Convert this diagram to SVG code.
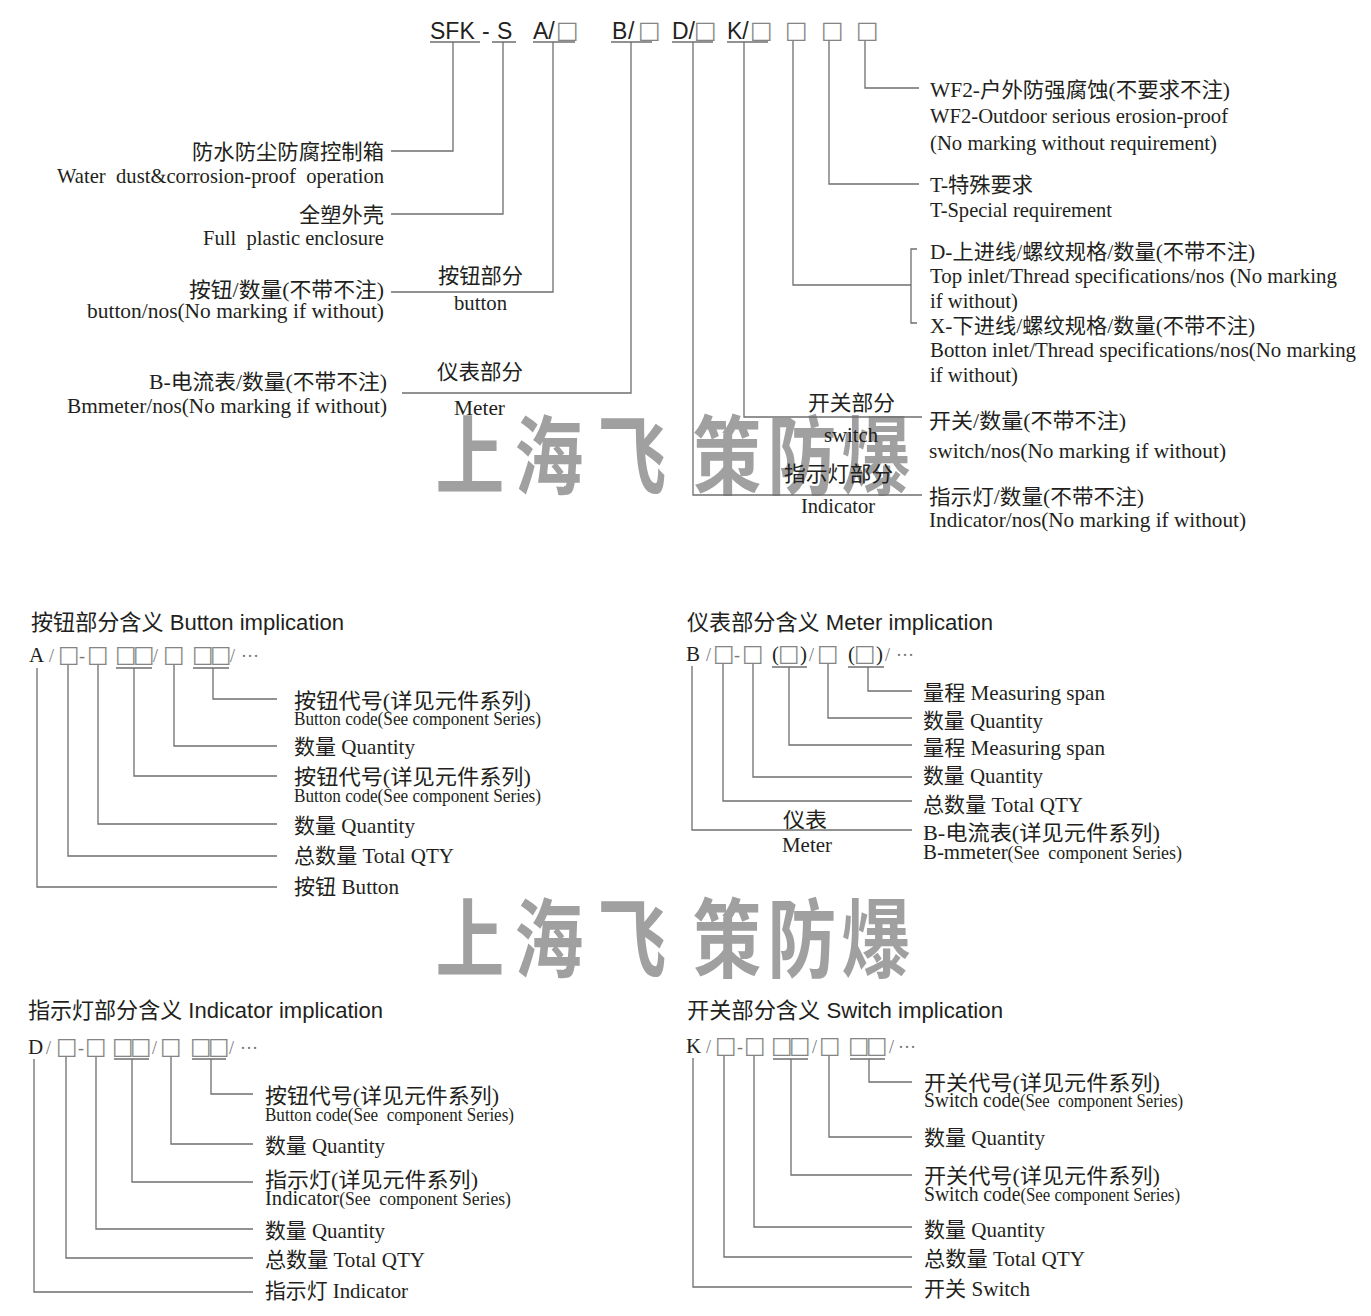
<svg xmlns="http://www.w3.org/2000/svg" width="1371" height="1316" viewBox="0 0 1371 1316">
<style>
.bg{fill:#ffffff}
.wm{font-family:"Noto Sans CJK SC",sans-serif;font-size:86px;font-weight:700;fill:#a0a0a0}
.t{font-family:"Liberation Serif","Noto Sans CJK SC",serif;font-size:21px;fill:#231f20}
.s{font-family:"Liberation Serif","Noto Sans CJK SC",serif;font-size:18px;fill:#231f20}
.h{font-family:"Liberation Sans","Noto Sans CJK SC",sans-serif;font-size:22px;fill:#231f20}
.code{font-family:"Liberation Sans",sans-serif;font-size:23px;fill:#231f20}
.bx{font-family:"DejaVu Sans",sans-serif;font-size:24px;fill:#858585}
.bs{font-family:"DejaVu Sans",sans-serif;font-size:23px;fill:#858585}
.cs{font-family:"Liberation Serif","Noto Sans CJK SC",serif;font-size:21px;fill:#231f20}
.cg{font-family:"Liberation Serif","Noto Sans CJK SC",serif;font-size:18px;fill:#777777}
.ln{fill:none;stroke:#6f6f6f;stroke-width:1.3}
.ul{fill:none;stroke:#6f6f6f;stroke-width:1.3}
</style>
<rect class="bg" x="0" y="0" width="1371" height="1316"/>

<g id="watermark">
<text class="wm" text-anchor="middle" transform="translate(470,488) scale(0.8,1)">上</text>
<text class="wm" text-anchor="middle" transform="translate(549,488) scale(0.8,1)">海</text>
<text class="wm" text-anchor="middle" transform="translate(632,488) scale(0.8,1)">飞</text>
<text class="wm" text-anchor="middle" transform="translate(727,488) scale(0.8,1)">策</text>
<text class="wm" text-anchor="middle" transform="translate(802,488) scale(0.8,1)">防</text>
<text class="wm" text-anchor="middle" transform="translate(876,488) scale(0.8,1)">爆</text>
<text class="wm" text-anchor="middle" transform="translate(470,971) scale(0.8,1)">上</text>
<text class="wm" text-anchor="middle" transform="translate(549,971) scale(0.8,1)">海</text>
<text class="wm" text-anchor="middle" transform="translate(632,971) scale(0.8,1)">飞</text>
<text class="wm" text-anchor="middle" transform="translate(727,971) scale(0.8,1)">策</text>
<text class="wm" text-anchor="middle" transform="translate(802,971) scale(0.8,1)">防</text>
<text class="wm" text-anchor="middle" transform="translate(876,971) scale(0.8,1)">爆</text>
</g>

<g id="connectors">
<path class="ln" d="M453,42V151H391"/>
<path class="ln" d="M503,42V214H391"/>
<path class="ln" d="M553,42V292H391"/>
<path class="ln" d="M631,42V393H402"/>
<path class="ln" d="M693,42V495H922"/>
<path class="ln" d="M744,42V417H922"/>
<path class="ln" d="M793,40V285H911"/>
<path class="ln" d="M917,249H911V323H917"/>
<path class="ln" d="M829,40V184H919"/>
<path class="ln" d="M865,40V88H919"/>

<path class="ln" d="M37,668V887H277"/>
<path class="ln" d="M68,665V856H277"/>
<path class="ln" d="M98,665V824H277"/>
<path class="ln" d="M134,668V776H277"/>
<path class="ln" d="M174,665V746H277"/>
<path class="ln" d="M213,668V699H277"/>

<path class="ln" d="M692,666V830H912"/>
<path class="ln" d="M723,663V801H912"/>
<path class="ln" d="M753,663V777H912"/>
<path class="ln" d="M789,667V745H912"/>
<path class="ln" d="M828,663V718H912"/>
<path class="ln" d="M868,667V691H912"/>

<path class="ln" d="M34,1059V1292H253"/>
<path class="ln" d="M66,1056V1258H253"/>
<path class="ln" d="M96,1056V1229H253"/>
<path class="ln" d="M132,1059V1182H253"/>
<path class="ln" d="M171,1056V1144H253"/>
<path class="ln" d="M211,1059V1094H253"/>

<path class="ln" d="M693,1058V1287H912"/>
<path class="ln" d="M724,1055V1257H912"/>
<path class="ln" d="M754,1055V1227H912"/>
<path class="ln" d="M791,1059V1175H912"/>
<path class="ln" d="M829,1055V1137H912"/>
<path class="ln" d="M869,1059V1082H912"/>
</g>

<g id="model-code">
<text class="code" y="39"><tspan x="430">SFK</tspan><tspan x="482">-</tspan><tspan x="497">S</tspan></text>
<text class="code" x="533" y="39">A/</text>
<text class="code" y="39"><tspan x="612">B</tspan><tspan x="628">/</tspan></text>
<text class="code" x="672" y="39">D/</text>
<text class="code" x="727" y="39">K/</text>
<text class="bx" x="556" y="38">□</text>
<text class="bx" x="638" y="38">□</text>
<text class="bx" x="694" y="38">□</text>
<text class="bx" x="750" y="38">□</text>
<text class="bx" x="785" y="38">□</text>
<text class="bx" x="821" y="38">□</text>
<text class="bx" x="856" y="38">□</text>
<path class="ul" d="M430,42H480M492,42H516M533,42H575M611,42H652M672,42H713M727,42H768"/>
</g>

<g id="node-enclosure">
<text class="t" x="384" y="159" text-anchor="end" textLength="192" lengthAdjust="spacingAndGlyphs">防水防尘防腐控制箱</text>
<text class="t" x="384" y="183" text-anchor="end" textLength="327" lengthAdjust="spacingAndGlyphs" xml:space="preserve">Water  dust&amp;corrosion-proof  operation</text>
</g>
<g id="node-plastic">
<text class="t" x="384" y="222" text-anchor="end" textLength="85" lengthAdjust="spacingAndGlyphs">全塑外壳</text>
<text class="t" x="384" y="245" text-anchor="end" textLength="181" lengthAdjust="spacingAndGlyphs" xml:space="preserve">Full  plastic enclosure</text>
</g>
<g id="node-button">
<text class="t" x="384" y="297" text-anchor="end" textLength="195" lengthAdjust="spacingAndGlyphs">按钮/数量(不带不注)</text>
<text class="t" x="384" y="318" text-anchor="end" textLength="297" lengthAdjust="spacingAndGlyphs">button/nos(No marking if without)</text>
<text class="t" x="438" y="283" textLength="85" lengthAdjust="spacingAndGlyphs">按钮部分</text>
<text class="t" x="454" y="310" textLength="53" lengthAdjust="spacingAndGlyphs">button</text>
</g>
<g id="node-meter">
<text class="t" x="387" y="389" text-anchor="end" textLength="238" lengthAdjust="spacingAndGlyphs">B-电流表/数量(不带不注)</text>
<text class="t" x="387" y="413" text-anchor="end" textLength="320" lengthAdjust="spacingAndGlyphs">Bmmeter/nos(No marking if without)</text>
<text class="t" x="437" y="379" textLength="86" lengthAdjust="spacingAndGlyphs">仪表部分</text>
<text class="t" x="454" y="415" textLength="51" lengthAdjust="spacingAndGlyphs">Meter</text>
</g>
<g id="node-wf2">
<text class="t" x="930" y="97" textLength="300" lengthAdjust="spacingAndGlyphs">WF2-户外防强腐蚀(不要求不注)</text>
<text class="t" x="930" y="123" textLength="298" lengthAdjust="spacingAndGlyphs">WF2-Outdoor serious erosion-proof</text>
<text class="t" x="930" y="150" textLength="287" lengthAdjust="spacingAndGlyphs">(No marking without requirement)</text>
</g>
<g id="node-special">
<text class="t" x="930" y="192" textLength="103" lengthAdjust="spacingAndGlyphs">T-特殊要求</text>
<text class="t" x="930" y="217" textLength="182" lengthAdjust="spacingAndGlyphs">T-Special requirement</text>
</g>
<g id="node-inlet">
<text class="t" x="930" y="259" textLength="325" lengthAdjust="spacingAndGlyphs">D-上进线/螺纹规格/数量(不带不注)</text>
<text class="t" x="930" y="283" textLength="407" lengthAdjust="spacingAndGlyphs">Top inlet/Thread specifications/nos (No marking</text>
<text class="t" x="930" y="308" textLength="88" lengthAdjust="spacingAndGlyphs">if without)</text>
<text class="t" x="930" y="333" textLength="325" lengthAdjust="spacingAndGlyphs">X-下进线/螺纹规格/数量(不带不注)</text>
<text class="t" x="930" y="357" textLength="426" lengthAdjust="spacingAndGlyphs">Botton inlet/Thread specifications/nos(No marking</text>
<text class="t" x="930" y="382" textLength="88" lengthAdjust="spacingAndGlyphs">if without)</text>
</g>
<g id="node-switch">
<text class="t" x="808" y="410" textLength="87" lengthAdjust="spacingAndGlyphs">开关部分</text>
<text class="t" x="824" y="442" textLength="54" lengthAdjust="spacingAndGlyphs">switch</text>
<text class="t" x="929" y="428" textLength="197" lengthAdjust="spacingAndGlyphs">开关/数量(不带不注)</text>
<text class="t" x="929" y="458" textLength="297" lengthAdjust="spacingAndGlyphs">switch/nos(No marking if without)</text>
</g>
<g id="node-indicator">
<text class="t" x="784" y="481" textLength="109" lengthAdjust="spacingAndGlyphs">指示灯部分</text>
<text class="t" x="801" y="513" textLength="74" lengthAdjust="spacingAndGlyphs">Indicator</text>
<text class="t" x="929" y="504" textLength="215" lengthAdjust="spacingAndGlyphs">指示灯/数量(不带不注)</text>
<text class="t" x="929" y="527" textLength="317" lengthAdjust="spacingAndGlyphs">Indicator/nos(No marking if without)</text>
</g>

<g id="button-implication">
<text class="h" x="31" y="630" textLength="313" lengthAdjust="spacingAndGlyphs">按钮部分含义 Button implication</text>
<text y="662"><tspan class="cs" x="29">A</tspan><tspan class="cg" x="49">/</tspan><tspan class="bs" x="58">□</tspan><tspan class="cg" x="79">-</tspan><tspan class="bs" x="87">□</tspan><tspan class="bs" x="115">□</tspan><tspan class="bs" x="133">□</tspan><tspan class="cg" x="153">/</tspan><tspan class="bs" x="163">□</tspan><tspan class="bs" x="192">□</tspan><tspan class="bs" x="210">□</tspan><tspan class="cg" x="230">/</tspan><tspan class="cg" x="241" dy="-5">…</tspan></text>
<path class="ul" d="M116,668H152M193,668H229"/>
<text class="t" x="294" y="708" textLength="237" lengthAdjust="spacingAndGlyphs">按钮代号(详见元件系列)</text>
<text class="s" x="294" y="725" textLength="247" lengthAdjust="spacingAndGlyphs">Button code(See component Series)</text>
<text class="t" x="294" y="754" textLength="121" lengthAdjust="spacingAndGlyphs">数量 Quantity</text>
<text class="t" x="294" y="784" textLength="237" lengthAdjust="spacingAndGlyphs">按钮代号(详见元件系列)</text>
<text class="s" x="294" y="802" textLength="247" lengthAdjust="spacingAndGlyphs">Button code(See component Series)</text>
<text class="t" x="294" y="833" textLength="121" lengthAdjust="spacingAndGlyphs">数量 Quantity</text>
<text class="t" x="294" y="863" textLength="160" lengthAdjust="spacingAndGlyphs">总数量 Total QTY</text>
<text class="t" x="294" y="894" textLength="105" lengthAdjust="spacingAndGlyphs">按钮 Button</text>
</g>

<g id="meter-implication">
<text class="h" x="687" y="630" textLength="306" lengthAdjust="spacingAndGlyphs">仪表部分含义 Meter implication</text>
<text y="661"><tspan class="cs" x="686">B</tspan><tspan class="cg" x="706">/</tspan><tspan class="bs" x="713">□</tspan><tspan class="cg" x="734">-</tspan><tspan class="bs" x="742">□</tspan><tspan class="cs" x="772">(</tspan><tspan class="bs" x="778">□</tspan><tspan class="cs" x="800">)</tspan><tspan class="cg" x="809">/</tspan><tspan class="bs" x="817">□</tspan><tspan class="cs" x="848">(</tspan><tspan class="bs" x="854">□</tspan><tspan class="cs" x="876">)</tspan><tspan class="cg" x="885">/</tspan><tspan class="cg" x="896" dy="-5">…</tspan></text>
<path class="ul" d="M772,667H807M848,667H884"/>
<text class="t" x="923" y="700" textLength="182" lengthAdjust="spacingAndGlyphs">量程 Measuring span</text>
<text class="t" x="923" y="728" textLength="120" lengthAdjust="spacingAndGlyphs">数量 Quantity</text>
<text class="t" x="923" y="755" textLength="182" lengthAdjust="spacingAndGlyphs">量程 Measuring span</text>
<text class="t" x="923" y="783" textLength="120" lengthAdjust="spacingAndGlyphs">数量 Quantity</text>
<text class="t" x="923" y="812" textLength="160" lengthAdjust="spacingAndGlyphs">总数量 Total QTY</text>
<text class="t" x="923" y="840" textLength="237" lengthAdjust="spacingAndGlyphs">B-电流表(详见元件系列)</text>
<text class="t" x="923" y="859" textLength="259" lengthAdjust="spacingAndGlyphs">B-mmeter<tspan class="s" xml:space="preserve">(See  component Series)</tspan></text>
<text class="t" x="783" y="827" textLength="44" lengthAdjust="spacingAndGlyphs">仪表</text>
<text class="t" x="782" y="852" textLength="50" lengthAdjust="spacingAndGlyphs">Meter</text>
</g>

<g id="indicator-implication">
<text class="h" x="28" y="1018" textLength="355" lengthAdjust="spacingAndGlyphs">指示灯部分含义 Indicator implication</text>
<text y="1054"><tspan class="cs" x="28">D</tspan><tspan class="cg" x="46">/</tspan><tspan class="bs" x="56">□</tspan><tspan class="cg" x="78">-</tspan><tspan class="bs" x="85">□</tspan><tspan class="bs" x="112">□</tspan><tspan class="bs" x="130">□</tspan><tspan class="cg" x="152">/</tspan><tspan class="bs" x="160">□</tspan><tspan class="bs" x="190">□</tspan><tspan class="bs" x="208">□</tspan><tspan class="cg" x="229">/</tspan><tspan class="cg" x="240" dy="-5">…</tspan></text>
<path class="ul" d="M114,1059H149M192,1059H226"/>
<text class="t" x="265" y="1103" textLength="234" lengthAdjust="spacingAndGlyphs">按钮代号(详见元件系列)</text>
<text class="s" x="265" y="1121" textLength="249" lengthAdjust="spacingAndGlyphs" xml:space="preserve">Button code(See  component Series)</text>
<text class="t" x="265" y="1153" textLength="120" lengthAdjust="spacingAndGlyphs">数量 Quantity</text>
<text class="t" x="265" y="1187" textLength="213" lengthAdjust="spacingAndGlyphs">指示灯(详见元件系列)</text>
<text class="t" x="265" y="1205" textLength="246" lengthAdjust="spacingAndGlyphs" xml:space="preserve">Indicator<tspan class="s">(See  component Series)</tspan></text>
<text class="t" x="265" y="1238" textLength="120" lengthAdjust="spacingAndGlyphs">数量 Quantity</text>
<text class="t" x="265" y="1267" textLength="160" lengthAdjust="spacingAndGlyphs">总数量 Total QTY</text>
<text class="t" x="265" y="1298" textLength="143" lengthAdjust="spacingAndGlyphs">指示灯 Indicator</text>
</g>

<g id="switch-implication">
<text class="h" x="687" y="1018" textLength="316" lengthAdjust="spacingAndGlyphs">开关部分含义 Switch implication</text>
<text y="1053"><tspan class="cs" x="686">K</tspan><tspan class="cg" x="706">/</tspan><tspan class="bs" x="715">□</tspan><tspan class="cg" x="737">-</tspan><tspan class="bs" x="744">□</tspan><tspan class="bs" x="771">□</tspan><tspan class="bs" x="789">□</tspan><tspan class="cg" x="812">/</tspan><tspan class="bs" x="819">□</tspan><tspan class="bs" x="848">□</tspan><tspan class="bs" x="866">□</tspan><tspan class="cg" x="889">/</tspan><tspan class="cg" x="898" dy="-5">…</tspan></text>
<path class="ul" d="M773,1059H808M850,1059H885"/>
<text class="t" x="924" y="1090" textLength="236" lengthAdjust="spacingAndGlyphs">开关代号(详见元件系列)</text>
<text class="t" x="924" y="1107" textLength="259" lengthAdjust="spacingAndGlyphs" xml:space="preserve">Switch code<tspan class="s">(See  component Series)</tspan></text>
<text class="t" x="924" y="1145" textLength="121" lengthAdjust="spacingAndGlyphs">数量 Quantity</text>
<text class="t" x="924" y="1183" textLength="236" lengthAdjust="spacingAndGlyphs">开关代号(详见元件系列)</text>
<text class="t" x="924" y="1201" textLength="256" lengthAdjust="spacingAndGlyphs">Switch code<tspan class="s">(See component Series)</tspan></text>
<text class="t" x="924" y="1237" textLength="121" lengthAdjust="spacingAndGlyphs">数量 Quantity</text>
<text class="t" x="924" y="1266" textLength="161" lengthAdjust="spacingAndGlyphs">总数量 Total QTY</text>
<text class="t" x="924" y="1296" textLength="106" lengthAdjust="spacingAndGlyphs">开关 Switch</text>
</g>
</svg>
